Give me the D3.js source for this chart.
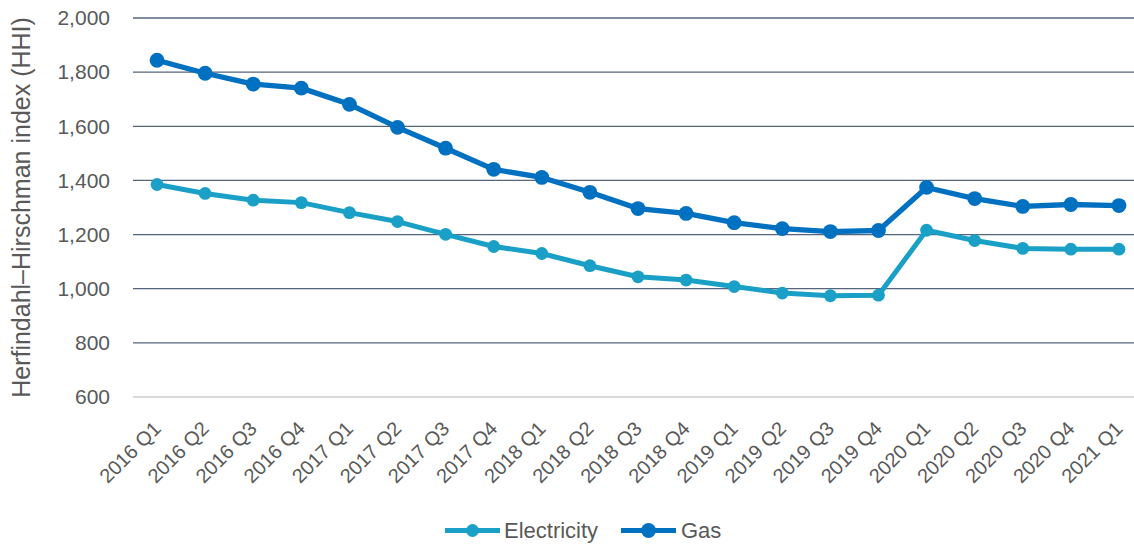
<!DOCTYPE html>
<html>
<head>
<meta charset="utf-8">
<script src="https://cdn.jsdelivr.net/npm/d3@7"></script>
<style>
  html, body { margin: 0; padding: 0; background: #fff; }
  svg { display: block; font-family: "Liberation Sans", Arial, sans-serif; }
</style>
</head>
<body>
<svg id="chart" width="1134" height="544"></svg>
<script>
// Quarterly market concentration (HHI)
const quarters = [
  "2016 Q1","2016 Q2","2016 Q3","2016 Q4",
  "2017 Q1","2017 Q2","2017 Q3","2017 Q4",
  "2018 Q1","2018 Q2","2018 Q3","2018 Q4",
  "2019 Q1","2019 Q2","2019 Q3","2019 Q4",
  "2020 Q1","2020 Q2","2020 Q3","2020 Q4",
  "2021 Q1"
];
const electricity = [1385,1352,1327,1318,1281,1248,1201,1156,1130,1085,1044,1032,1008,984,974,976,1216,1178,1149,1146,1146];
const gas = [1844,1796,1756,1741,1681,1596,1519,1441,1411,1356,1296,1278,1244,1222,1211,1215,1374,1333,1304,1311,1307];
const yTicks = [600,800,1000,1200,1400,1600,1800,2000];

const seriesNames = ["Electricity","Gas"];
const seriesColors = ["#1aa0c6","#0070c0"];

const svg = d3.select("#chart");
const m = { left: 133, right: 1143, top: 18, bottom: 397 };
const textColor = "#595959";

const x = d3.scaleBand().domain(quarters).range([m.left, m.right]);
const y = d3.scaleLinear().domain([600, 2000]).range([m.bottom, m.top]);
const cx = d => x(d) + x.bandwidth() / 2;

// gridlines
const grid = svg.append("g");
grid.selectAll("line").data(yTicks.filter(t => t > 600)).join("line")
  .attr("x1", m.left).attr("x2", 1134)
  .attr("y1", d => y(d)).attr("y2", d => y(d))
  .attr("stroke", "#55667c").attr("stroke-width", 1.3);
grid.append("line")
  .attr("x1", m.left).attr("x2", 1134)
  .attr("y1", y(600)).attr("y2", y(600))
  .attr("stroke", "#d9d9d9").attr("stroke-width", 2);

// y axis labels
const yAxis = d3.axisLeft(y).tickValues(yTicks).tickFormat(d3.format(",")).tickSize(0).tickPadding(23);
svg.append("g").attr("transform", `translate(${m.left},0)`).call(yAxis)
  .call(g => g.select(".domain").remove())
  .selectAll("text")
  .attr("fill", textColor).attr("font-size", 21).attr("font-family", "Liberation Sans, Arial, sans-serif");

// x axis labels, rotated
const xAxis = d3.axisBottom(x).tickSize(0).tickPadding(0);
svg.append("g").attr("transform", `translate(0,${m.bottom})`).call(xAxis)
  .call(g => g.select(".domain").remove())
  .selectAll("text")
  .attr("fill", textColor).attr("font-size", 20).attr("font-family", "Liberation Sans, Arial, sans-serif")
  .attr("text-anchor", "end")
  .attr("x", 0).attr("y", 0).attr("dy", "0")
  .attr("transform", "translate(5,33) rotate(-45)");

// y axis title
svg.append("text")
  .attr("transform", `translate(30,${(m.top + m.bottom) / 2}) rotate(-90)`)
  .attr("text-anchor", "middle")
  .attr("fill", textColor).attr("font-size", 25)
  .text("Herfindahl–Hirschman index (HHI)");

// series
const data = [electricity, gas];
const radii = [6.4, 7.4];
const widths = [5, 5.3];
data.forEach((vals, i) => {
  const pts = quarters.map((q, j) => [cx(q), y(vals[j])]);
  svg.append("path")
    .attr("d", d3.line()(pts))
    .attr("fill", "none").attr("stroke", seriesColors[i])
    .attr("stroke-width", widths[i]).attr("stroke-linejoin", "round");
  svg.append("g").selectAll("circle").data(pts).join("circle")
    .attr("cx", d => d[0]).attr("cy", d => d[1]).attr("r", radii[i])
    .attr("fill", seriesColors[i]);
});

// legend
const legend = svg.append("g");
const legendPos = [{x: 445, tx: 504}, {x: 621, tx: 681}];
seriesNames.forEach((name, i) => {
  const ly = 530.5;
  const g = legend.append("g");
  g.append("line").attr("x1", legendPos[i].x).attr("x2", legendPos[i].x + 55)
    .attr("y1", ly).attr("y2", ly).attr("stroke", seriesColors[i]).attr("stroke-width", 5);
  g.append("circle").attr("cx", legendPos[i].x + 27.5).attr("cy", ly).attr("r", radii[i]).attr("fill", seriesColors[i]);
  g.append("text").attr("x", legendPos[i].tx).attr("y", 538)
    .attr("fill", textColor).attr("font-size", 22).text(name);
});
</script>
</body>
</html>
